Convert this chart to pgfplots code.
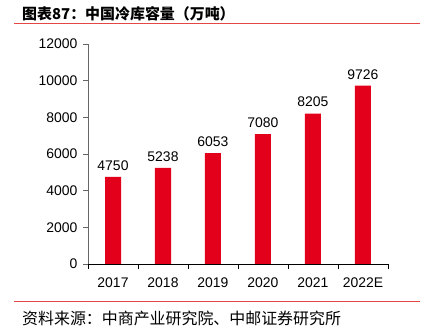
\documentclass[border=0pt]{standalone}
\usepackage{fontspec}
\setmainfont{Liberation Sans}
\newfontfamily\cjk{Noto Sans CJK SC}
\usepackage{pgfplots}
\pgfplotsset{compat=1.18}
\definecolor{barred}{RGB}{226,0,26}
\definecolor{linered}{RGB}{228,70,70}
\begin{document}
\begin{tikzpicture}[x=1bp,y=1bp]
\path[use as bounding box] (0,0) rectangle (424,328);
\draw[linered, line width=1bp] (14,304) -- (420,304);
\draw[linered, line width=1bp] (14,26) -- (420,26);
\node[anchor=base west, inner sep=0, font=\cjk\bfseries\fontsize{15}{18}\selectfont] at (22,309) {图表87：中国冷库容量（万吨）};
\node[anchor=base west, inner sep=0, font=\cjk\fontsize{16}{18}\selectfont] at (22,4) {资料来源：中商产业研究院、中邮证券研究所};
\begin{axis}[
  at={(88bp,64bp)}, anchor=south west,
  scale only axis, width=300bp, height=220bp,
  xmin=-0.5, xmax=5.5, ymin=0, ymax=12000,
  axis x line*=bottom, axis y line*=left,
  x axis line style={black, line width=0.8bp, -},
  y axis line style={black!60, line width=0.8bp, -},
  ytick={0,2000,4000,6000,8000,10000,12000},
  scaled y ticks=false,
  xtick={-0.5,0.5,1.5,2.5,3.5,4.5,5.5},
  xticklabels={2017,2018,2019,2020,2021,2022E},
  x tick label as interval,
  tick align=outside,
  major tick length=5bp,
  x tick style={black, line width=0.8bp},
  y tick style={black!60, line width=0.8bp},
  ticklabel style={font=\fontsize{14}{16}\selectfont, text=black},
  yticklabel style={xshift=-2bp},
  xticklabel style={yshift=-5bp},
  /pgf/number format/1000 sep={},
  /pgf/number format/assume math mode=true,
  ybar, bar width=16bp,
  nodes near coords,
  nodes near coords style={font=\fontsize{14}{16}\selectfont, text=black, yshift=3bp},
]
\addplot[fill=barred, draw=none] coordinates {(0,4750) (1,5238) (2,6053) (3,7080) (4,8205) (5,9726)};
\end{axis}
\end{tikzpicture}
\end{document}
